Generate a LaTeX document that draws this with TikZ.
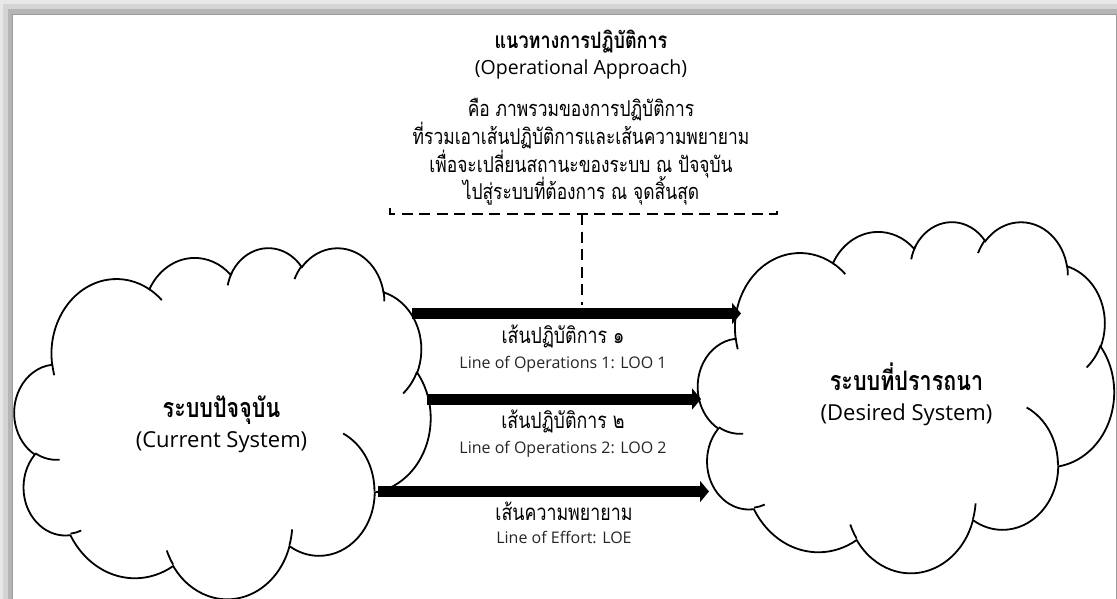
\documentclass[tikz,border=0pt]{standalone}
\usepackage{fontspec}
\setmainfont{Open Sans}
\newfontfamily\thai[Script=Thai]{Loma}
\usetikzlibrary{arrows.meta}
\definecolor{shA}{HTML}{E8E8E8}
\definecolor{shB}{HTML}{D4D4D4}
\definecolor{shC}{HTML}{B5B5B5}
\definecolor{shD}{HTML}{9A9A9A}
\newcommand{\thtall}[1]{\scalebox{1}[1.25]{#1}}
\newcommand{\mycloud}[2]{%
  \begin{scope}[shift={(#1,#2)}, x=0.0963pt, y=-0.08125pt]
    \draw[cloudline, fill=white] (390,1437)
      arc[start angle=-187.75, end angle=-59.63, x radius=675.3, y radius=919.0]
      arc[start angle=-152.03, end angle=-45.43, x radius=533.3, y radius=726.7]
      arc[start angle=-153.48, end angle=-37.32, x radius=436.5, y radius=594.5]
      arc[start angle=-139.69, end angle=-10.21, x radius=485.7, y radius=659.5]
      arc[start angle=-74.77, end angle=23.21, x radius=533.3, y radius=727.3]
      arc[start angle=-37.53, end angle=81.86, x radius=677.5, y radius=922.0]
      arc[start angle=0.46, end angle=121.99, x radius=578.5, y radius=786.7]
      arc[start angle=16.85, end angle=146.26, x radius=675.2, y radius=921.5]
      arc[start angle=58.98, end angle=150.2, x radius=772.0, y radius=1054.3]
      arc[start angle=83.31, end angle=223.12, x radius=436.0, y radius=591.8]
      arc[start angle=120.35, end angle=264.11, x radius=434.5, y radius=594.5]
      -- cycle;
    \draw[cloudline]
      (469.3,2617.7) arc[start angle=85.55, end angle=120.35, x radius=434.5, y radius=594.5]
      (692.8,3489.9) arc[start angle=68.23, end angle=83.31, x radius=436.0, y radius=591.8]
      (1647.8,3909.0) arc[start angle=146.26, end angle=158.48, x radius=675.2, y radius=921.5]
      (2882.7,3475.1) arc[start angle=4.74, end angle=16.85, x radius=675.2, y radius=921.5]
      (3412.9,2295.4) arc[start angle=-64.02, end angle=0.46, x radius=578.5, y radius=786.7]
      (4179.8,1535.4) arc[start angle=23.21, end angle=49.64, x radius=533.3, y radius=727.3]
      (3832.4,542.6) arc[start angle=-10.21, end angle=0.82, x radius=485.7, y radius=659.5]
      (2907.8,395.2) arc[start angle=-156.28, end angle=-139.69, x radius=485.7, y radius=659.5]
      (2214.1,472.0) arc[start angle=-167.73, end angle=-150.95, x radius=436.5, y radius=594.5]
      (1400.0,519.2) arc[start angle=-59.63, end angle=-45.74, x radius=675.3, y radius=919.0]
      (412.7,1578.9) arc[start angle=164.09, end angle=173.11, x radius=675.3, y radius=919.0];
  \end{scope}}
\begin{document}
\begin{tikzpicture}[x=1pt,y=-1pt,
  cloudline/.style={line width=1.8pt, black},
  txt/.style={inner sep=0pt, anchor=base},
  thtitle/.style={txt, font=\thai\bfseries\fontsize{18}{20}\selectfont},
  thpara/.style={txt, font=\thai\fontsize{17.4}{20}\selectfont},
  thlab/.style={txt, font=\thai\fontsize{17.8}{20}\selectfont},
  thcloud/.style={txt, font=\thai\bfseries\fontsize{21.5}{24}\selectfont},
  enlab/.style={txt, font=\fontsize{16}{18}\selectfont, black!85},
  enhead/.style={txt, font=\fontsize{19.5}{22}\selectfont},
  encloud/.style={txt, font=\fontsize{22}{24}\selectfont},
  bigarrow/.style={line width=11pt, -{Triangle[length=9pt, width=21pt]}},
  dashline/.style={line width=1.3pt, dash pattern=on 11pt off 6.5pt}]
\useasboundingbox (0,0) rectangle (1117,599);
% frame with shadow
\fill[shA] (0,0) rectangle (1117,599);
\fill[shB] (3,4) rectangle (1117,599);
\fill[shC] (8,9) rectangle (1117,599);
\fill[white] (13,15) rectangle (1116,599);
\draw[shD, line width=1pt] (12.5,599) -- (12.5,14.5) -- (1116.5,14.5) -- (1116.5,599);
% clouds
\mycloud{14.5}{247}
\mycloud{698}{221}
% heading texts
\node[thtitle] (title) at (581,49) {\thtall{แนวทางการปฏิบัติการ}};
\node[enhead] (titleen) at (581,75) {(Operational Approach)};
\node[thpara] (p1) at (581,117) {\thtall{คือ ภาพรวมของการปฏิบัติการ}};
\node[thpara] (p2) at (581,145) {\thtall{ที่รวมเอาเส้นปฏิบัติการและเส้นความพยายาม}};
\node[thpara] (p3) at (581,173) {\thtall{เพื่อจะเปลี่ยนสถานะของระบบ ณ ปัจจุบัน}};
\node[thpara] (p4) at (581,200) {\thtall{ไปสู่ระบบที่ต้องการ ณ จุดสิ้นสุด}};
% bracket
\coordinate (bl) at (390,208);
\coordinate (br) at (777,208);
\coordinate (bm) at (582,214);
\coordinate (bend) at (582,305);
\draw[dashline] (bl) -- (390,214) -- (777,214) -- (br);
\draw[dashline] (bm) -- (bend);
% arrows
\coordinate (a1s) at (412,313.5);
\coordinate (a1e) at (741,313.5);
\coordinate (a2s) at (427,399);
\coordinate (a2e) at (701,399);
\coordinate (a3s) at (378,491.5);
\coordinate (a3e) at (709,491.5);
\draw[bigarrow] (a1s) -- (a1e);
\draw[bigarrow] (a2s) -- (a2e);
\draw[bigarrow] (a3s) -- (a3e);
% arrow labels
\node[thlab] (l1) at (563,343) {\thtall{เส้นปฏิบัติการ ๑}};
\node[enlab] (l1e) at (563,368) {Line of Operations 1: LOO 1};
\node[thlab] (l2) at (563,428) {\thtall{เส้นปฏิบัติการ ๒}};
\node[enlab] (l2e) at (563,453) {Line of Operations 2: LOO 2};
\node[thlab] (l3) at (564,520) {\thtall{เส้นความพยายาม}};
\node[enlab] (l3e) at (564,543) {Line of Effort: LOE};
% cloud labels
\node[thcloud] (cur) at (221.5,417) {\thtall{ระบบปัจจุบัน}};
\node[encloud] (curen) at (221.5,447) {(Current System)};
\node[thcloud] (des) at (906.5,390) {\thtall{ระบบที่ปรารถนา}};
\node[encloud] (desen) at (906.5,420) {(Desired System)};
\end{tikzpicture}
\end{document}
